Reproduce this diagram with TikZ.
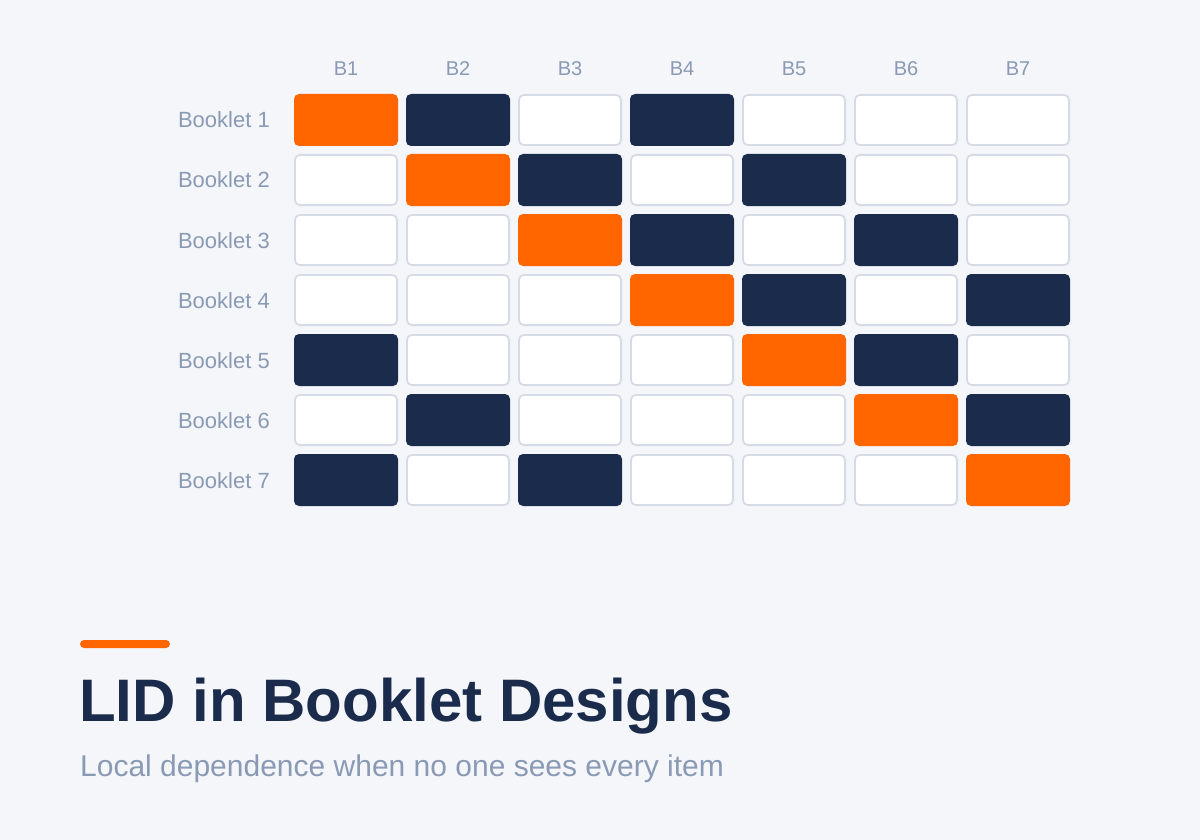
\documentclass[tikz,border=0pt]{standalone}
\usepackage{fontspec}
\setmainfont{Liberation Sans}
\definecolor{bgpaper}{HTML}{F4F6FA}
\definecolor{accent}{HTML}{FF6600}
\definecolor{navy}{HTML}{1B2B4B}
\definecolor{muted}{HTML}{8A9AB4}
\definecolor{edgegray}{HTML}{D5DCE5}
\tikzset{
  cell/.style={rectangle, rounded corners=5pt, minimum width=104pt, minimum height=52pt, inner sep=0pt},
  cellW/.style={cell, fill=white, draw=edgegray, line width=1.8pt, minimum width=102.2pt, minimum height=50.2pt},
  cellO/.style={cell, fill=accent},
  cellD/.style={cell, fill=navy},
  lbl/.style={text=muted, font=\fontsize{22}{26}\selectfont, inner sep=0pt}
}
\begin{document}
\begin{tikzpicture}[x=1pt, y=-1pt]
\fill[bgpaper] (0,0) rectangle (1200,840);
\useasboundingbox (0,0) rectangle (1200,840);
% column heads
\foreach \c in {1,...,7}
  \node[lbl, font=\fontsize{20}{24}\selectfont, anchor=base] (head\c) at ({346+112*(\c-1)},76) {B\c};
% one row per booklet: O = anchor block, D = linked block, W = not seen
\foreach \r/\pat in {1/{O,D,W,D,W,W,W}, 2/{W,O,D,W,D,W,W}, 3/{W,W,O,D,W,D,W},
                     4/{W,W,W,O,D,W,D}, 5/{D,W,W,W,O,D,W}, 6/{W,D,W,W,W,O,D},
                     7/{D,W,D,W,W,W,O}} {
  \node[lbl, anchor=base east] (row\r) at (270,{128+60*(\r-1)}) {Booklet \r};
  \foreach \k [count=\c] in \pat
    \node[cell\k] (c\r\c) at ({346+112*(\c-1)},{120+60*(\r-1)}) {};
}
% caption
\fill[accent, rounded corners=4pt] (80,640) rectangle (170,648);
\node[anchor=base west, inner sep=0pt, text=navy, font=\fontsize{60}{70}\selectfont\bfseries] (title) at (79,721) {LID in Booklet Designs};
\node[anchor=base west, inner sep=0pt, text=muted, font=\fontsize{30}{36}\selectfont] (subtitle) at (80,776) {Local dependence when no one sees every item};
\end{tikzpicture}
\end{document}
